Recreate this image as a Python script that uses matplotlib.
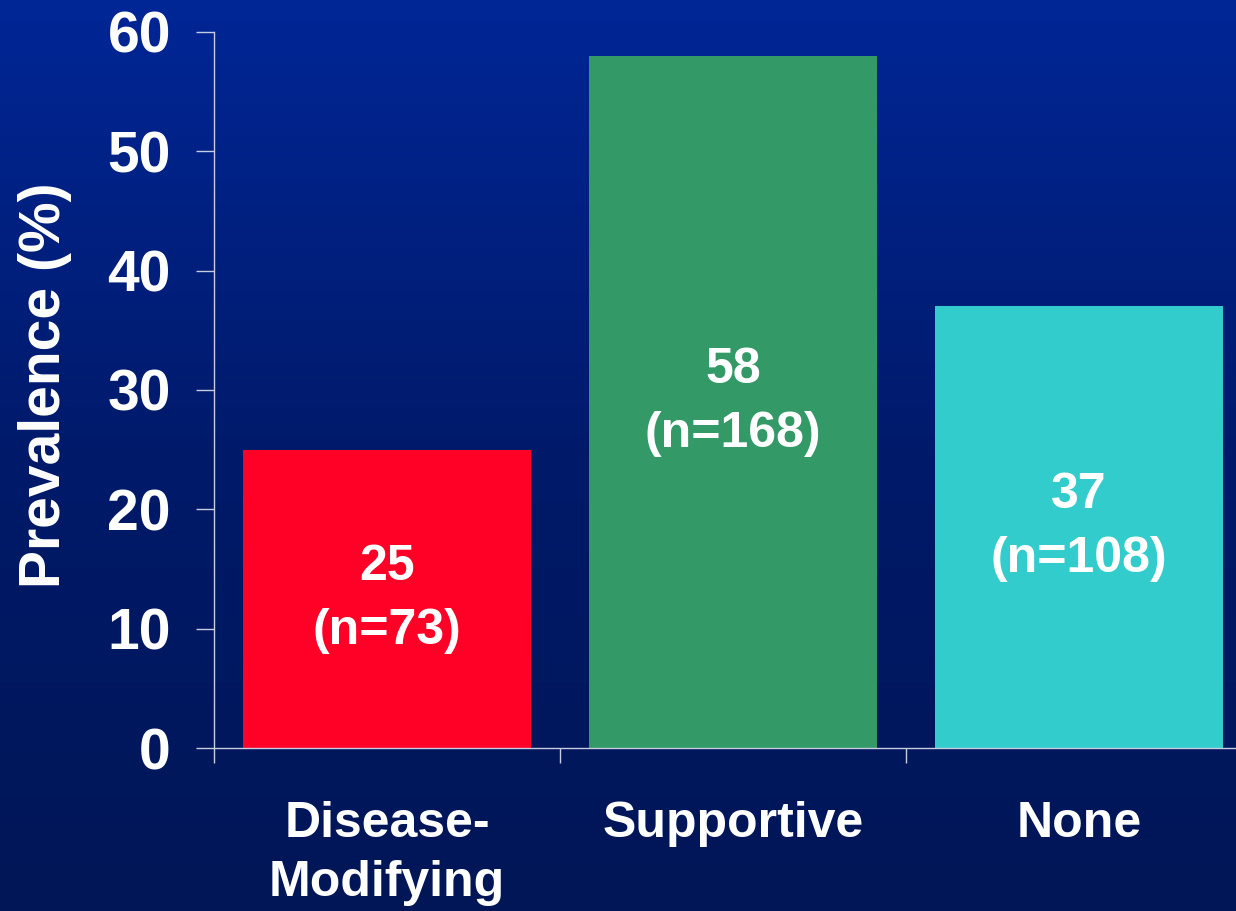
import matplotlib.pyplot as plt
import numpy as np
from matplotlib.colors import LinearSegmentedColormap

categories = ['Disease-\nModifying', 'Supportive', 'None']
prevalence = [25, 58, 37]
counts = [73, 168, 108]
bar_colors = ['#FF0027', '#339966', '#33CCCC']

plt.rcParams['font.family'] = ['Liberation Sans', 'DejaVu Sans']
plt.rcParams['font.weight'] = 'bold'

fig = plt.figure(figsize=(12.36, 9.11), dpi=100)

# vertical blue gradient behind everything
bg = fig.add_axes([0, 0, 1, 1], zorder=-1)
grad = np.linspace(0, 1, 256).reshape(-1, 1)
cmap = LinearSegmentedColormap.from_list('bg', ['#002696', '#001A6A', '#001656'])
bg.imshow(grad, aspect='auto', cmap=cmap, extent=[0, 1, 0, 1])
bg.axis('off')

ax = fig.add_axes([0.1731, 0.1789, 0.8398, 0.786])
ax.patch.set_visible(False)

x = np.arange(len(categories)) + 0.5
ax.bar(x, prevalence, width=0.83, color=bar_colors, zorder=2)

for xi, v, n in zip(x, prevalence, counts):
    ax.text(xi, v / 2, f'{v}\n(n={n})', ha='center', va='center',
            color='white', fontsize=36, fontweight='bold', linespacing=1.5)

ax.set_xlim(0, 3)
ax.set_ylim(0, 60)
ax.set_yticks(range(0, 61, 10))
ax.set_xticks([0, 1, 2, 3])
ax.set_xticklabels([])
ax.set_xticks(x, minor=True)
ax.set_xticklabels(categories, minor=True, fontsize=36, fontweight='bold',
                   color='white', linespacing=1.36)
ax.tick_params(axis='x', which='minor', length=0, pad=38)
ax.tick_params(axis='x', which='major', length=11, width=1, color='#C8CCE0')
ax.tick_params(axis='y', length=13, width=1, color='#C8CCE0', labelsize=41,
               labelcolor='white', pad=18)
for lbl in ax.get_yticklabels():
    lbl.set_fontweight('bold')

for side in ['top', 'right']:
    ax.spines[side].set_visible(False)
for side in ['left', 'bottom']:
    ax.spines[side].set_color('#C8CCE0')
    ax.spines[side].set_linewidth(1)

ax.set_ylabel('Prevalence (%)', fontsize=41, fontweight='bold', color='white')
ax.yaxis.set_label_coords(-0.137, 0.507)

fig.savefig('out.png', dpi=100)
